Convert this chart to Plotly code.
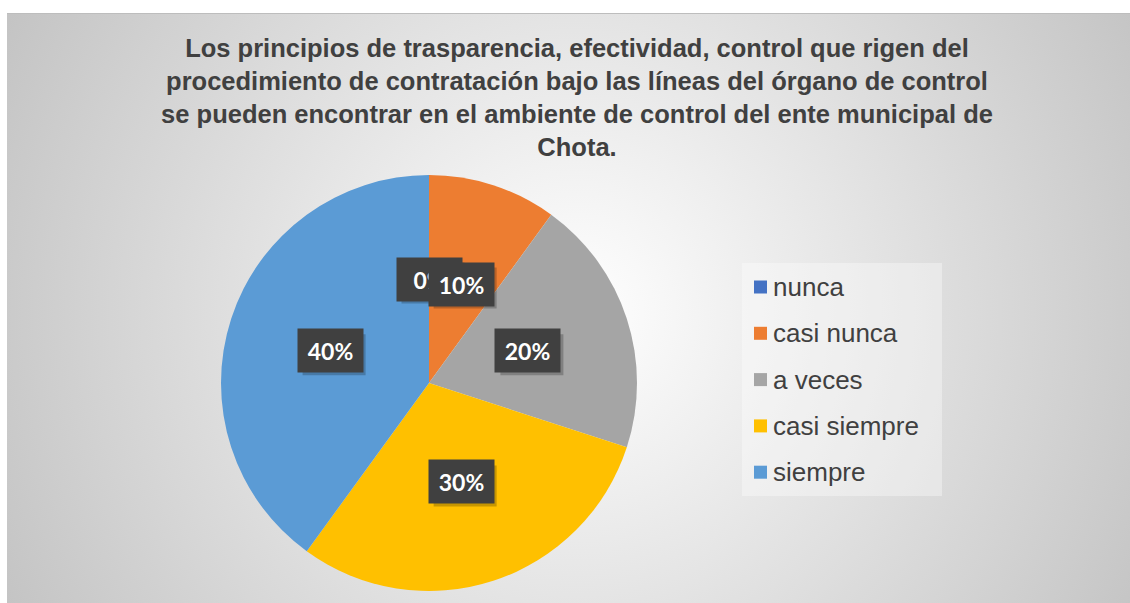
import base64
import math
import plotly.graph_objects as go

# datos de la encuesta
categorias = ["nunca", "casi nunca", "a veces", "casi siempre", "siempre"]
porcentajes = [0, 10, 20, 30, 40]
colores = ["#4472C4", "#ED7D31", "#A5A5A5", "#FFC000", "#5B9BD5"]

titulo = ("Los principios de trasparencia, efectividad, control que rigen del<br>"
          "procedimiento de contratación bajo las líneas del órgano de control<br>"
          "se pueden encontrar en el ambiente de control del ente municipal de<br>"
          "Chota.")

W, H = 1130, 603
# pie geometry (pixels)
cx, cy, R = 429, 383, 208
bw, bh = 63, 41  # caja de etiqueta

def px(x):
    return x / W

def py(y):
    return 1 - y / H

# fondo con degradado radial (svg en data uri)
svg = """<svg xmlns="http://www.w3.org/2000/svg" width="1123" height="590">
<defs><radialGradient id="g" gradientUnits="userSpaceOnUse" cx="570" cy="300" r="640">
<stop offset="0" stop-color="#ffffff"/><stop offset="1" stop-color="#c4c4c4"/>
</radialGradient></defs>
<rect width="1123" height="590" fill="url(#g)"/></svg>"""
fondo = "data:image/svg+xml;base64," + base64.b64encode(svg.encode()).decode()

fig = go.Figure()
fig.add_trace(go.Pie(
    labels=categorias,
    values=porcentajes,
    marker=dict(colors=colores, line=dict(width=0)),
    sort=False,
    direction="clockwise",
    rotation=0,
    textinfo="none",
    hoverinfo="label+percent",
    domain=dict(x=[px(cx - R), px(cx + R)], y=[py(cy + R), py(cy - R)]),
    showlegend=False,
))

shapes = [
    dict(type="line", xref="paper", yref="paper", x0=px(7), x1=1, y0=py(13.5), y1=py(13.5),
         line=dict(color="#bdbdbd", width=1)),
    dict(type="rect", xref="paper", yref="paper", x0=px(742), x1=px(942), y0=py(496), y1=py(263),
         fillcolor="rgba(255,255,255,0.35)", line=dict(width=0), layer="below"),
]

# etiquetas de datos con caja oscura
total = sum(porcentajes)
acum = 0
anotaciones = []
for cat, v in zip(categorias, porcentajes):
    mid = (acum + v / 2) / total
    acum += v
    ang = 2 * math.pi * mid
    lx = cx + 0.5 * R * math.sin(ang)
    ly = cy - 0.5 * R * math.cos(ang)
    txt = f"{round(100 * v / total)}%"
    # sombra
    shapes.append(dict(
        type="rect", xref="paper", yref="paper",
        x0=px(lx + 4 - bw / 2), x1=px(lx + 4 + bw / 2),
        y0=py(ly + 4 + bh / 2), y1=py(ly + 4 - bh / 2),
        fillcolor="rgba(0,0,0,0.22)", line=dict(width=0), layer="above",
    ))
    anotaciones.append(dict(
        x=px(lx), y=py(ly), xref="paper", yref="paper", text=f"<b>{txt}</b>",
        xanchor="center", yanchor="middle",
        showarrow=False, width=bw, height=bh, bgcolor="#404040",
        font=dict(family="Lato", size=23, color="white"),
    ))

# leyenda
for i, (cat, col) in enumerate(zip(categorias, colores)):
    yy = 287 + i * 46.3
    shapes.append(dict(type="rect", xref="paper", yref="paper",
                       x0=px(754), x1=px(767), y0=py(yy + 6.5), y1=py(yy - 6.5),
                       fillcolor=col, line=dict(width=0)))
    anotaciones.append(dict(
        x=px(771), y=py(yy), xref="paper", yref="paper", text=cat,
        xanchor="left", yanchor="middle", showarrow=False,
        font=dict(family="Liberation Sans", size=26, color="#404040"),
    ))

fig.update_layout(
    width=W, height=H,
    margin=dict(l=0, r=0, t=0, b=0),
    paper_bgcolor="white",
    title=dict(text=f"<b>{titulo}</b>", x=px(577), xanchor="center",
               y=py(57), yanchor="top", yref="container",
               font=dict(family="Liberation Sans", size=25.5, color="#404040")),
    images=[dict(source=fondo, xref="paper", yref="paper", x=px(7), y=py(13),
                 sizex=px(W - 7), sizey=(H - 13) / H, xanchor="left", yanchor="top",
                 sizing="stretch", layer="below")],
    shapes=shapes,
    annotations=anotaciones,
)

fig.write_html("out.html", config={"displayModeBar": False},
               post_script="document.body.style.margin='0px';")
